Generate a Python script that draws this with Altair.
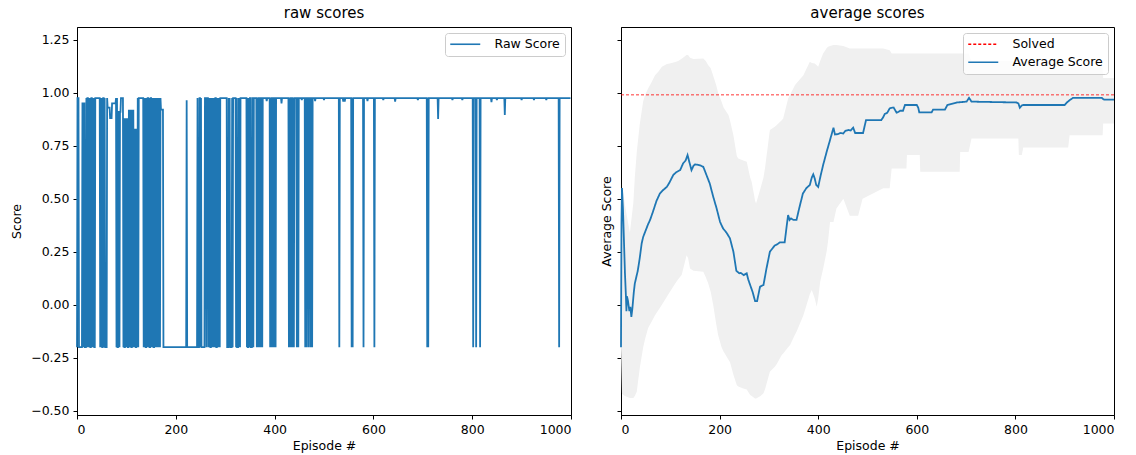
import altair as alt
import pandas as pd

# ---------------- data ----------------
EPISODES = 1000
TOP_SCORE = 0.975
FAIL_SCORE = -0.2

# episode ranges (inclusive) where the raw score sits at the bottom (-0.2)
FAIL_RANGES = [
    (0, 0), (4, 10), (13, 13), (16, 18), (20, 20), (23, 23), (25, 25), (27, 28),
    (31, 31), (33, 33), (35, 36),
    (47, 47), (49, 49), (51, 52), (55, 55), (57, 60),
    (80, 80), (82, 83), (86, 86),
    (94, 94), (96, 97), (99, 99), (101, 101), (103, 104), (106, 106), (108, 108),
    (110, 111), (113, 113), (115, 115), (117, 117), (119, 120), (122, 122), (124, 124),
    (135, 135), (137, 137), (139, 140), (142, 142), (145, 145), (147, 148),
    (151, 151), (153, 153), (155, 156), (158, 158), (160, 160), (162, 162),
    (164, 164), (166, 166), (168, 168),
    (175, 221), (223, 243),
    (245, 247), (250, 250), (252, 258), (262, 262), (266, 266), (268, 268),
    (270, 271), (273, 273), (275, 275), (277, 277), (279, 279), (282, 283),
    (285, 285), (287, 287), (289, 289),
    (304, 306), (308, 308), (310, 313), (315, 315),
    (322, 322), (324, 326), (328, 328), (330, 330),
    (344, 344), (346, 347), (349, 349), (352, 354), (357, 357),
    (364, 364), (366, 366), (369, 369), (372, 372), (375, 375),
    (391, 391), (393, 393), (396, 396), (399, 399), (402, 402),
    (429, 429), (431, 431), (434, 434), (437, 437), (439, 439),
    (445, 445), (448, 448),
    (462, 462), (465, 465), (469, 469), (473, 473), (476, 476),
    (531, 531), (556, 556), (558, 558), (580, 580), (602, 602),
    (709, 709), (711, 711), (802, 802), (808, 808), (816, 816), (976, 976),
]

# episode ranges (inclusive) whose top score is below the usual level
TOP_ADJUST = [
    (11, 15, 0.95), (62, 66, 0.93), (67, 70, 0.88), (71, 78, 0.95),
    (82, 88, 0.91), (95, 102, 0.88), (105, 114, 0.92), (115, 121, 0.83),
    (170, 174, 0.92), (222, 222, 0.965),
    (384, 384, 0.96), (414, 414, 0.95), (455, 455, 0.965), (482, 482, 0.96),
    (500, 500, 0.965), (539, 539, 0.958), (542, 542, 0.958), (588, 588, 0.96),
    (620, 620, 0.965), (644, 644, 0.958), (690, 690, 0.965), (731, 731, 0.876),
    (760, 760, 0.965), (780, 780, 0.965), (839, 839, 0.955), (850, 850, 0.965),
    (866, 866, 0.895), (900, 900, 0.965), (925, 925, 0.965), (950, 950, 0.965),
]

AVG_EP = [0, 1, 2, 4, 6, 8, 10, 11, 12, 14, 17, 19, 21, 23, 26, 28, 31, 34, 38, 42,
          45, 49, 55, 59, 65, 72, 79, 85, 93, 98, 106, 112, 120, 126, 131, 135, 139,
          143, 147, 150, 156, 162, 167, 172, 180, 187, 194, 201, 207, 214, 221, 228,
          234, 240, 243, 249, 255, 258, 262, 267, 272, 276, 282, 286, 289, 295, 302,
          307, 312, 317, 322, 332, 336, 339, 342, 345, 350, 356, 362, 369, 376, 383,
          387, 390, 393, 396, 400, 405, 410, 417, 424, 428, 431, 434, 440, 445, 451,
          455, 461, 466, 471, 475, 491, 497, 528, 532, 535, 540, 545, 549, 553, 559,
          563, 566, 572, 576, 600, 603, 605, 630, 633, 657, 662, 681, 701, 706, 711,
          802, 806, 809, 813, 816, 900, 905, 910, 917, 975, 980, 1000]
AVG_VAL = [-0.2, 0.39, 0.55, 0.45, 0.30, 0.15, 0.04, -0.03, 0.04, 0.02, -0.03, -0.01,
           -0.057, -0.02, 0.06, 0.10, 0.13, 0.16, 0.22, 0.29, 0.32, 0.344, 0.38, 0.40,
           0.44, 0.49, 0.525, 0.54, 0.556, 0.575, 0.612, 0.625, 0.635, 0.667, 0.68,
           0.706, 0.67, 0.635, 0.655, 0.662, 0.66, 0.656, 0.65, 0.62, 0.572, 0.51,
           0.454, 0.39, 0.36, 0.34, 0.313, 0.25, 0.16, 0.148, 0.15, 0.14, 0.148, 0.12,
           0.093, 0.06, 0.017, 0.017, 0.085, 0.09, 0.093, 0.17, 0.25, 0.265, 0.28,
           0.285, 0.294, 0.294, 0.37, 0.423, 0.40, 0.407, 0.40, 0.40, 0.46, 0.525,
           0.55, 0.565, 0.60, 0.615, 0.595, 0.565, 0.556, 0.61, 0.659, 0.72, 0.777,
           0.81, 0.835, 0.803, 0.805, 0.81, 0.808, 0.82, 0.824, 0.822, 0.835, 0.81,
           0.81, 0.871, 0.871, 0.885, 0.90, 0.905, 0.926, 0.929, 0.93, 0.906, 0.91,
           0.915, 0.915, 0.942, 0.942, 0.929, 0.907, 0.907, 0.92, 0.92, 0.942, 0.954,
           0.958, 0.976, 0.958, 0.954, 0.95, 0.929, 0.94, 0.942, 0.942, 0.955, 0.965,
           0.976, 0.976, 0.967, 0.967]

BAND_EP = [0, 2, 8, 18, 25, 28, 32, 38, 45, 49, 55, 62, 69, 76, 83, 93, 99, 110, 116,
           123, 133, 136, 140, 147, 167, 172, 177, 182, 187, 193, 197, 204, 208, 218,
           221, 228, 235, 238, 248, 255, 262, 265, 272, 274, 283, 289, 292, 302, 312,
           316, 326, 329, 339, 343, 353, 356, 370, 383, 387, 393, 397, 400, 404, 410,
           417, 420, 424, 431, 437, 451, 464, 481, 490, 532, 545, 549, 579, 580, 606,
           607, 687, 688, 705, 711, 806, 807, 813, 816, 907, 910, 977, 978, 1000]
BAND_LO = [-0.2, -0.42, -0.43, -0.44, -0.44, -0.43, -0.41, -0.30, -0.2, -0.16, -0.11,
           -0.08, -0.05, -0.025, 0.0, 0.038, 0.06, 0.10, 0.12, 0.14, 0.234, 0.22,
           0.171, 0.16, 0.156, 0.13, 0.10, 0.06, 0.0, -0.09, -0.143, -0.2, -0.22,
           -0.26, -0.27, -0.33, -0.38, -0.385, -0.395, -0.40, -0.426, -0.43, -0.442,
           -0.442, -0.43, -0.418, -0.40, -0.316, -0.292, -0.28, -0.237, -0.23, -0.20,
           -0.19, -0.14, -0.127, -0.049, 0.05, 0.069, 0.03, -0.01, 0.03, 0.108, 0.17,
           0.25, 0.30, 0.39, 0.39, 0.454, 0.50, 0.42, 0.42, 0.50, 0.55, 0.55, 0.643,
           0.643, 0.706, 0.706, 0.627, 0.627, 0.72, 0.72, 0.784, 0.784, 0.706, 0.706,
           0.742, 0.742, 0.80, 0.80, 0.855, 0.855]
BAND_HI = [-0.2, 0.57, 0.47, 0.34, 0.48, 0.60, 0.72, 0.85, 0.96, 0.99, 1.02, 1.05,
           1.083, 1.10, 1.123, 1.135, 1.138, 1.145, 1.15, 1.16, 1.178, 1.178, 1.165,
           1.159, 1.162, 1.15, 1.13, 1.115, 1.08, 1.036, 1.0, 0.958, 0.93, 0.895, 0.87,
           0.80, 0.70, 0.69, 0.68, 0.675, 0.60, 0.58, 0.49, 0.478, 0.549, 0.60, 0.643,
           0.824, 0.84, 0.848, 0.87, 0.879, 0.973, 0.99, 1.036, 1.045, 1.083, 1.146,
           1.14, 1.138, 1.13, 1.123, 1.15, 1.185, 1.21, 1.217, 1.22, 1.225, 1.225,
           1.22, 1.209, 1.209, 1.209, 1.209, 1.2, 1.185, 1.185, 1.185, 1.185, 1.185,
           1.185, 1.185, 1.185, 1.15, 1.15, 1.15, 1.15, 1.15, 1.15, 1.12, 1.12, 1.07,
           1.07]

SOLVED = 0.99

X_TICKS = [0, 200, 400, 600, 800, 1000]
Y_TICKS = [-0.5, -0.25, 0.0, 0.25, 0.5, 0.75, 1.0, 1.25]
Y_DOMAIN = [-0.52, 1.31]
X_DOMAIN = [0, 1000]

BLUE = "#1f77b4"
RED = "#ff0000"
BAND = "#f0f0f0"
FONT = "DejaVu Sans"

# ---------------- tables ----------------
scores = [TOP_SCORE] * EPISODES
for a, b, v in TOP_ADJUST:
    for i in range(a, b + 1):
        scores[i] = v
for a, b in FAIL_RANGES:
    for i in range(a, b + 1):
        scores[i] = FAIL_SCORE

raw_df = pd.DataFrame({"episode": list(range(EPISODES)), "score": scores,
                       "series": ["Raw Score"] * EPISODES})
avg_df = pd.DataFrame({"episode": AVG_EP, "score": AVG_VAL,
                       "series": ["Average Score"] * len(AVG_EP)})
band_df = pd.DataFrame({"episode": BAND_EP, "lo": BAND_LO, "hi": BAND_HI})
solved_df = pd.DataFrame({"score": [SOLVED], "series": ["Solved"]})

# ---------------- chart ----------------
W, H = 494, 388


def x_enc():
    return alt.X("episode:Q", scale=alt.Scale(domain=X_DOMAIN, nice=False, zero=False),
                 axis=alt.Axis(values=X_TICKS, title="Episode #", format="d"))


def legend():
    return alt.Legend(title=None, orient="top-right", offset=6,
                      fillColor="rgba(255,255,255,0.8)", strokeColor="#cccccc",
                      cornerRadius=3, padding=5, labelFontSize=12.5, labelFont=FONT,
                      labelColor="black", symbolType="M-3,0H3", symbolSize=100,
                      symbolStrokeWidth=1.6, symbolOffset=9, labelOffset=23,
                      rowPadding=5, labelLimit=300)


left = alt.Chart(raw_df).mark_line(strokeWidth=1.8).encode(
    x=x_enc(),
    y=alt.Y("score:Q", scale=alt.Scale(domain=Y_DOMAIN, nice=False, zero=False),
            axis=alt.Axis(values=Y_TICKS, format=".2f", title="Score")),
    color=alt.Color("series:N", scale=alt.Scale(domain=["Raw Score"], range=[BLUE]),
                    legend=legend()),
).properties(width=W, height=H, title="raw scores")

y_right = alt.Y("score:Q", scale=alt.Scale(domain=Y_DOMAIN, nice=False, zero=False),
                axis=alt.Axis(values=Y_TICKS, labels=False, title="Average Score",
                              titlePadding=3))

band = alt.Chart(band_df).mark_area(color=BAND, opacity=1).encode(
    x=x_enc(),
    y=alt.Y("lo:Q", scale=alt.Scale(domain=Y_DOMAIN, nice=False, zero=False),
            axis=alt.Axis(values=Y_TICKS, labels=False, title="Average Score",
                          titlePadding=3)),
    y2="hi:Q",
)

series_dom = ["Solved", "Average Score"]
color_right = alt.Color("series:N",
                        scale=alt.Scale(domain=series_dom, range=[RED, BLUE]),
                        legend=legend())
dash_right = alt.StrokeDash("series:N",
                            scale=alt.Scale(domain=series_dom, range=[[3, 2], [1, 0]]),
                            legend=legend())

solved = alt.Chart(solved_df).mark_rule(strokeWidth=0.8).encode(
    y=y_right, color=color_right, strokeDash=dash_right)

avg = alt.Chart(avg_df).mark_line(strokeWidth=1.8).encode(
    x=x_enc(), y=y_right, color=color_right, strokeDash=dash_right)

right = alt.layer(band, solved, avg).properties(width=493, height=H,
                                                title="average scores")

chart = alt.hconcat(left, right, spacing=50, bounds="flush").resolve_scale(
    color="independent", strokeDash="independent"
).properties(
    padding={"left": 10, "top": 5, "right": 2, "bottom": 3}
).configure(font=FONT).configure_view(
    stroke="black", strokeWidth=1
).configure_axis(
    grid=False, domainColor="black", tickColor="black", labelColor="black",
    titleColor="black", labelFontSize=12.5, titleFontSize=12.5, labelFont=FONT,
    titleFont=FONT, titleFontWeight="normal", tickSize=4, labelPadding=4,
    domainWidth=1, tickWidth=1,
).configure_axisY(titlePadding=7).configure_axisX(titlePadding=4).configure_title(
    fontSize=15, fontWeight="normal", font=FONT, color="black", offset=6,
    anchor="middle",
)

chart.save("out.html", embed_options={"renderer": "svg", "actions": False})
